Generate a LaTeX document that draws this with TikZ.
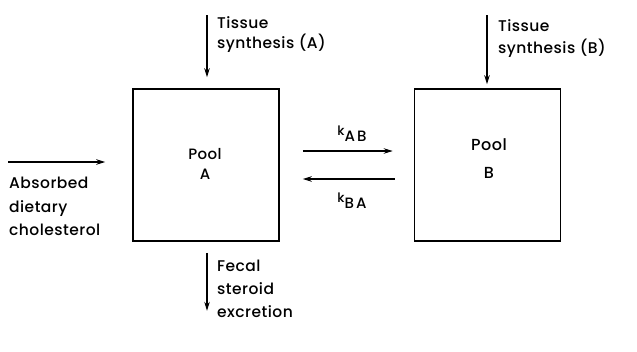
\documentclass[tikz,border=0pt]{standalone}
\usepackage{fontspec}
\setmainfont{Poppins}[UprightFont=* Medium,LetterSpace=3]
\usetikzlibrary{arrows.meta}
\begin{document}
\begin{tikzpicture}[x=1pt,y=-1pt,
  pool/.style={draw,line width=1.6pt,minimum width=146pt,minimum height=152pt,inner sep=0pt},
  arr/.style={line width=1.2pt,-{Stealth[length=9pt,width=5.5pt]}},
  lbl/.style={font=\fontsize{15.5}{23.5}\selectfont,align=left,anchor=north west,inner sep=0pt},
  pooltxt/.style={font=\fontsize{15}{15}\selectfont,inner sep=0pt},
  ktxt/.style={font=\fontsize{15}{16}\selectfont\addfontfeature{LetterSpace=15},inner sep=0pt}]
\useasboundingbox (0,0) rectangle (637,351);
\node[pool] (A) at (206,165) {};
\node[pool] (B) at (487.5,165) {};
\node[pooltxt] (pa) at (205,154) {Pool};
\node[pooltxt] (pa2) at (205,174) {A};
\node[pooltxt,font=\fontsize{16}{16}\selectfont] (pb) at (489,145) {Pool};
\node[pooltxt,font=\fontsize{16}{16}\selectfont] (pb2) at (489,173) {B};
% tissue A
\coordinate (tA) at (207,15);
\draw[arr] (tA) -- ([yshift=11pt]A.north -| tA);
\node[lbl,font=\fontsize{15.5}{20}\selectfont] (ltA) at (217,16) {Tissue\\synthesis (A)};
% tissue B
\coordinate (tB) at (487,15);
\draw[arr] (tB) -- ([yshift=4pt]B.north -| tB);
\node[lbl,font=\fontsize{15.5}{22}\selectfont] (ltB) at (498,19) {Tissue\\synthesis (B)};
% absorbed
\coordinate (ab) at (8,162);
\draw[arr] (ab) -- ([xshift=-27pt]A.west |- ab);
\node[lbl] (lab) at (9,177) {Absorbed\\dietary\\cholesterol};
% fecal
\coordinate (fe) at (207,252);
\draw[arr] ([yshift=-11pt]A.south -| fe) -- ++(0,58);
\node[lbl,font=\fontsize{15.5}{23}\selectfont] (lfe) at (217,260) {Fecal\\steroid\\excretion};
% exchange
\draw[arr,shorten <=23pt,shorten >=21pt] ([yshift=14pt]A.east) -- ([yshift=14pt]B.west);
\draw[arr,shorten <=19pt,shorten >=23pt] ([yshift=-14pt]B.west) -- ([yshift=-14pt]A.east);
\node[ktxt] (kab) at (352,134) {{\fontsize{13}{13}\selectfont k}\raisebox{-6pt}{AB}};
\node[ktxt] (kba) at (352,201) {{\fontsize{13}{13}\selectfont k}\raisebox{-6pt}{BA}};
\end{tikzpicture}
\end{document}
